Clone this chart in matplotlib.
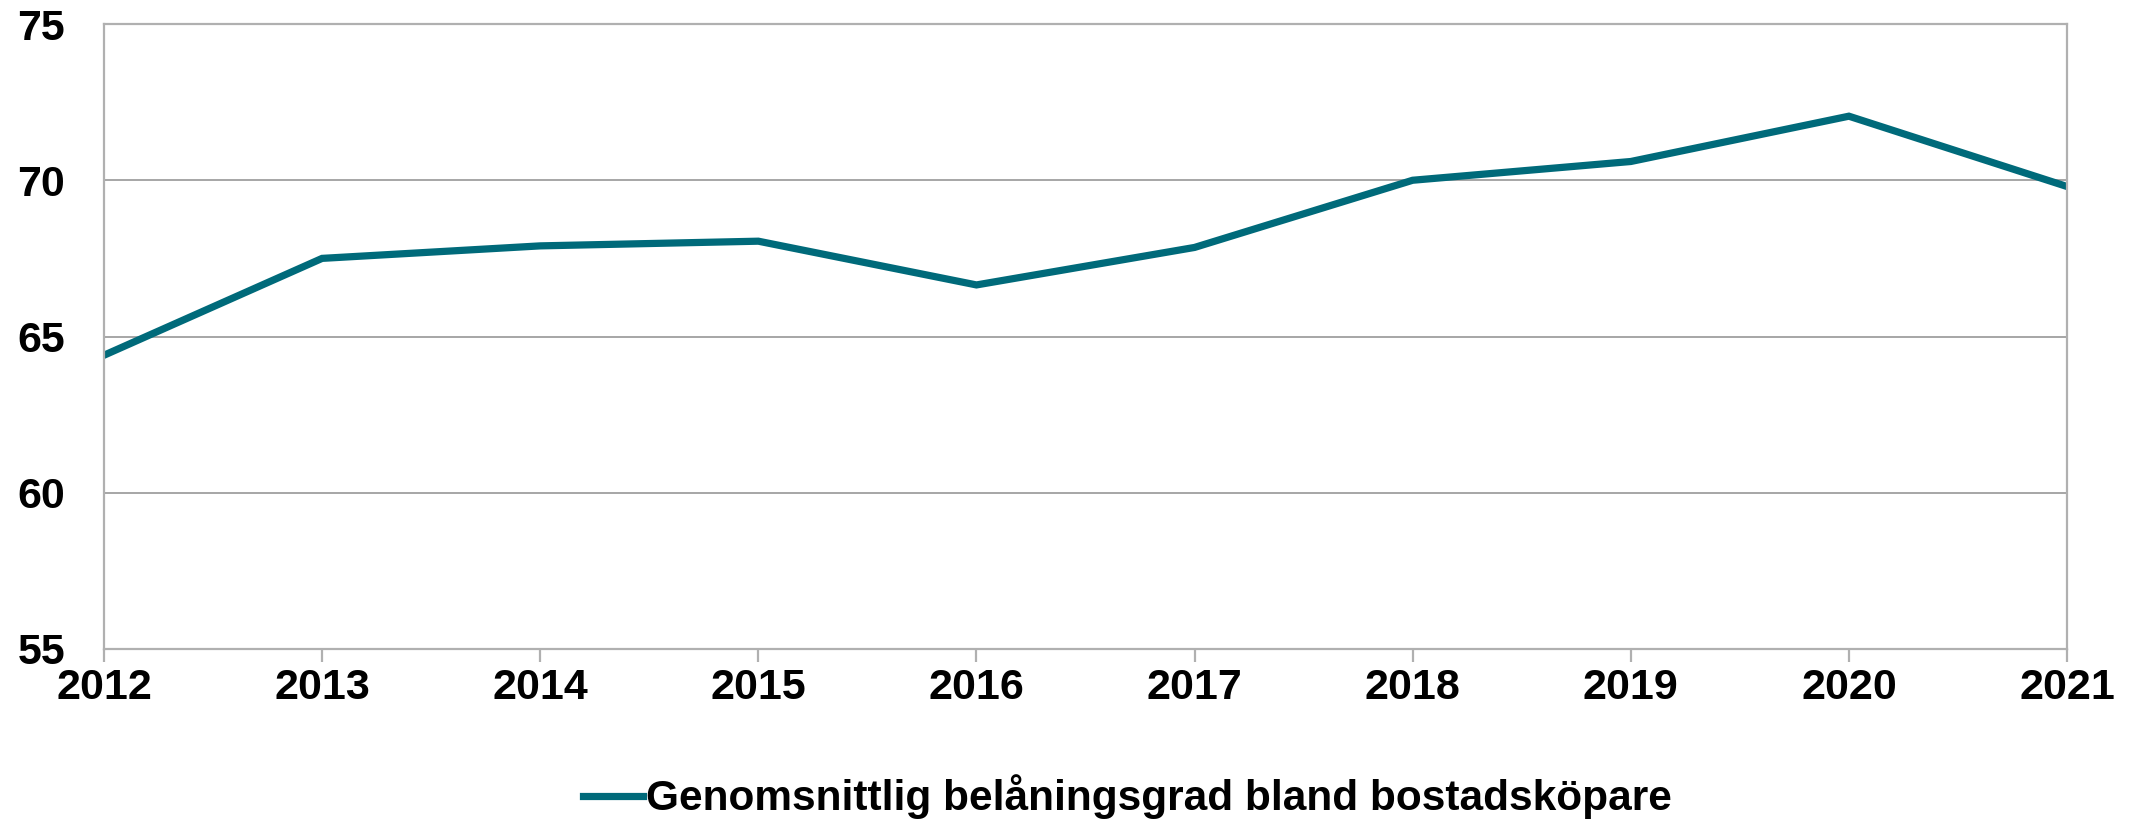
import numpy as np
import matplotlib.pyplot as plt
from matplotlib.lines import Line2D

plt.rcParams['font.family'] = ['Liberation Sans', 'DejaVu Sans']
plt.rcParams['font.weight'] = 'bold'

years = [2012, 2013, 2014, 2015, 2016, 2017, 2018, 2019, 2020, 2021]
belaning = [64.4, 67.5, 67.9, 68.05, 66.65, 67.85, 70.0, 70.6, 72.05, 69.8]
yticks = [55, 60, 65, 70, 75]
serie_namn = 'Genomsnittlig belåningsgrad bland bostadsköpare'

fig = plt.figure(figsize=(21.31, 8.19), dpi=100)
ax = fig.add_axes([104/2131, 1 - 649/819, (2067-104)/2131, (649-24)/819])

ax.plot(years, belaning, color='#006a7a', lw=5.2, solid_joinstyle='miter')

ax.set_xlim(2012, 2021)
ax.set_ylim(55, 75)
ax.set_xticks(years)
ax.set_yticks(yticks)
ax.grid(axis='y', color='#a6a6a6', lw=1.4)
ax.set_axisbelow(True)
for s in ax.spines.values():
    s.set_color('#b0b0b0')
    s.set_linewidth(1.6)
ax.tick_params(axis='x', length=9, width=1.6, color='#b0b0b0', pad=5, labelsize=31)
ax.tick_params(axis='y', length=0, pad=28, labelsize=31)

h = Line2D([], [], color='#006a7a', lw=5.2)
fig.legend([h], [serie_namn], loc='center', bbox_to_anchor=(1127/2131, 1 - 797/819),
           frameon=False, fontsize=30.5, handlelength=1.42, handletextpad=0.07,
           borderpad=0, borderaxespad=0)

fig.savefig('out.png', dpi=100)
